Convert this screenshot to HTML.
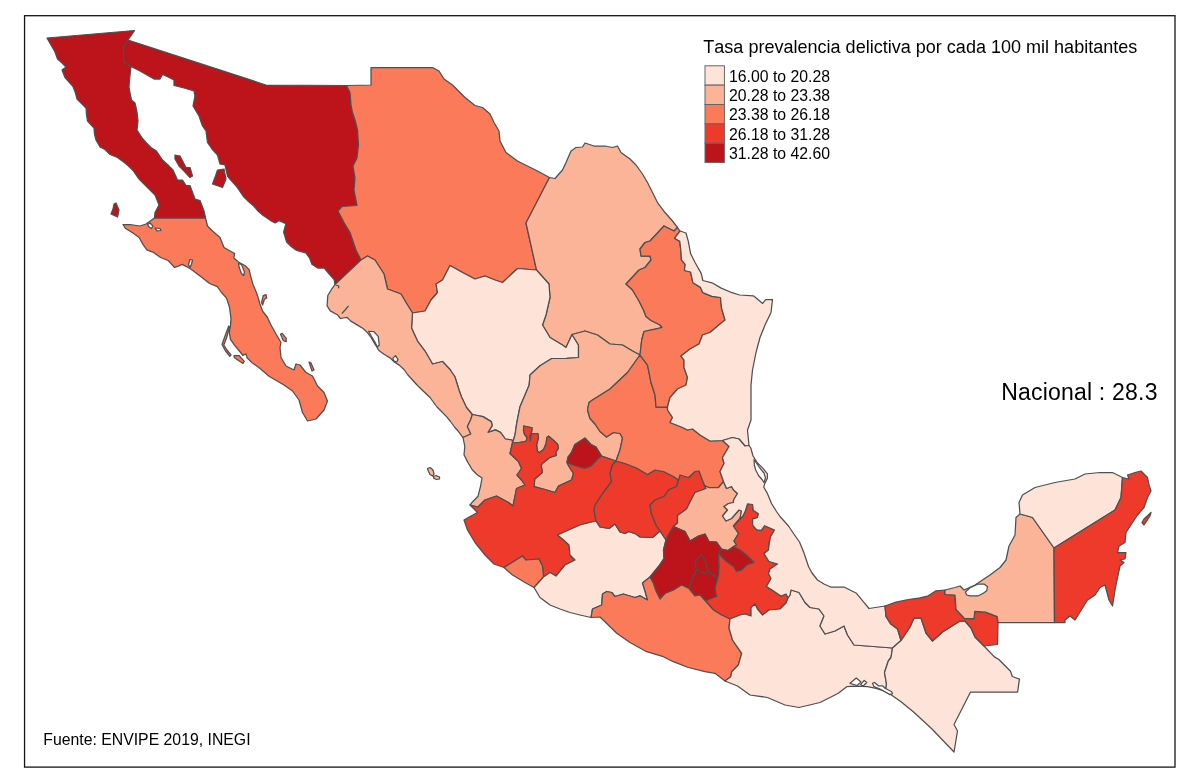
<!DOCTYPE html>
<html lang="es"><head><meta charset="utf-8"><title>Tasa prevalencia delictiva</title>
<style>html,body{margin:0;padding:0;background:#fff}body{width:1200px;height:783px;overflow:hidden}svg{display:block}text{font-family:"Liberation Sans",Arial,sans-serif;fill:#000;font-kerning:none}</style></head><body>
<svg width="1200" height="783" viewBox="0 0 1200 783">
<rect x="0" y="0" width="1200" height="783" fill="#fff"/>
<g stroke="#4f4f4f" stroke-width="1.25" stroke-linejoin="round">
<polygon id="BC" fill="#BC141A" points="47,38 134.5,30.5 131.5,35 128,40 123.5,47.5 123.5,55 124,62 131,66.5 129.5,80 129,87 130,93 131.5,100 135,103 137,112 138,121 137,130 142.5,138.5 146,142.5 151,147.5 156.5,151 162.5,160 168,165 173,170 177.5,180 182.5,180 186,185.5 190,185.5 192,191 195,199 200,200.5 204,211 205.5,218 154.5,218 155,212.5 159,205 155,195 147.5,187.5 140,180 137.5,177 133,170.5 130,167.5 125,163 117.5,157.5 110,154.5 105,149.5 100,147 96,140 94.5,134 94,128 87.5,121 86.5,115 86,108 81,103 77,99 75.5,93 73,86.5 69,82 65,77.5 62,70 66,67 62,63 57.5,59 55,52 51,45 47,38"/>
<polygon id="BCS" fill="#FB7A5A" points="205.5,218 207.5,226 212.5,231 220,237.5 224,247.5 234.6,253.5 233.8,258.1 238.4,262 245.3,265.8 249.1,269.6 250.6,275.8 252.9,284.2 256.8,293.4 260,304 262.5,311 267.5,317.5 271,325 276,334 281,342.5 280,347.5 281,357.5 286,366 294,370 296,364 300,365 306,372.5 312.5,376 317.5,386 324,392.5 327.5,401 324,410 316,419 307.5,421 302.5,412.5 299,400 292.5,391 284,385 269,376.2 259.8,368.2 251.7,362.4 247,357.8 246,353.8 243,355.5 240.2,352 234.5,345.2 230.5,339.4 229.3,332.5 230.5,325.6 231,318.7 229.5,307.3 226.5,298.1 221.1,292 217.3,286.6 209.6,283.5 202,277.4 192.8,270.5 188.2,267.4 182,264.4 179,265.9 174.4,267.4 168.2,260.5 160.6,257.5 152.9,252.1 146.8,249.8 143,244.4 139.1,237.5 133,233 125.3,228.3 123,224.5 130,224.5 140,226 146,224 154.5,218 205.5,218"/>
<polygon id="SON" fill="#BC141A" points="128,40 266,85 346.5,85.5 350,92.5 351,105 352.5,112.5 355,120 357.5,130 358.5,145 357,158 353,166 355,178 354,190 357,205.5 342,206.5 338,211 344,222.5 350,232.5 356,250 361,260 335,284.5 334.1,279.6 328.8,273.5 324.2,268.1 318,268.1 311.9,264.3 309.6,258.1 305.8,252.8 296.6,250.5 291.2,246.6 286.6,242 283.6,232.1 285.9,223.7 279,220.6 275.2,222.9 270.6,220.6 262.9,215.2 258,211 253.7,206 248.5,201.5 243.7,196.9 236.9,186.9 230.7,180 227.5,176 225,165 220,164 217.5,155 212,149 207.5,142.5 206,131 202.5,126 199,116 193,106 195,96 194,91 184,88 174,85.5 174,80 168,77 162.5,74.5 160,79 154,79 147,75 140,71 131,66.5 124,62 123.5,55 123.5,47.5 128,40"/>
<polygon id="CHIH" fill="#FB7A5A" points="346.5,85.5 371,85 371,67.5 432.5,67.5 439,71 444,79 452.5,85 465,97.5 475,105.5 482.5,107.5 490,114 494,122.5 499,131 500,141 506,152.5 517.5,161 527.5,166 537.5,171 549.5,177.5 526,223 536.5,270 517.5,268.5 502.5,282.5 495,280 485,276 475,279 462.5,272.5 450,265.5 442.5,280 436,284 437.5,292.5 431,300 425,311 412.5,313 406,302.5 401,294 387.5,289 384,274 375,260 367.5,256 361,260 356,250 350,232.5 344,222.5 338,211 342,206.5 357,205.5 354,190 355,178 353,166 357,158 358.5,145 357.5,130 355,120 352.5,112.5 351,105 350,92.5 346.5,85.5"/>
<polygon id="COAH" fill="#FCB499" points="549.5,177.5 555,178.5 562.5,170 566,162.5 571,151 576,147.5 582.5,147 585,143 594,146 605,146 612.5,147.5 617.5,146 621,152.5 630,159 636,165 642.5,174 647.5,182.5 652.5,192.5 657.5,202.5 665,212.5 672.5,221 677.5,227.5 674,231 664,226 650,241 645,242.5 640,249 641,256 650,256 651,260 645,267.5 639,270 626,284 632.5,290 639,301 643.5,310 646,316.5 651,320.5 660,325 662,327.5 655,329.2 644,331.5 641.7,340 640,355 632.5,351 622.5,345 610,344 597.5,335 585,331 572,334.5 566,347.5 562.5,345 550,337.5 542.5,325 546,315 550,297.5 549,284 536.5,270 526,223 549.5,177.5"/>
<polygon id="DGO" fill="#FEE4D8" points="536.5,270 549,284 550,297.5 546,315 542.5,325 550,337.5 562.5,345 566,347.5 572,334.5 578.5,345 578.5,357.5 566.7,358.3 551.7,358.5 540,365.8 530,375 529.2,385 525,395 520,406.7 516.7,423.3 515,435 512.5,443 512.1,440 505.4,439 500.5,432.4 495.5,429.9 488,432.4 492.2,425.7 491.3,421.6 483,416.6 472.3,414.5 466.5,407.5 461.5,397 459,390 455,377 450,369.5 442.5,361.5 432.5,364 425,351 417.5,341 411.5,328 412.5,313 425,311 431,300 437.5,292.5 436,284 442.5,280 450,265.5 462.5,272.5 475,279 485,276 495,280 502.5,282.5 517.5,268.5 536.5,270"/>
<polygon id="SIN" fill="#FCB499" points="335,284.5 331.6,289.2 327.8,295.5 327.1,305.8 330.3,310.9 337.3,314.7 340.5,318.5 346.9,317.3 350.8,321.1 357.1,324.9 363.5,328.7 367.4,332.6 371.2,337.7 375,344.1 378.9,350.5 384,354.3 390.4,358.1 394.2,362 399.3,365.1 404.4,370 407.5,374.5 417.5,385.5 430,397.5 437,407 441.5,411.5 446.5,416.6 450.5,421.5 454.5,427 458.5,431.5 463,437.5 470.8,434 467.4,426.6 470.6,420 472.3,414.5 466.5,407.5 461.5,397 459,390 455,377 450,369.5 442.5,361.5 432.5,364 425,351 417.5,341 411.5,328 412.5,313 406,302.5 401,294 387.5,289 384,274 375,260 367.5,256 361,260 335,284.5"/>
<polygon id="NAY" fill="#FCB499" points="463,437.5 464.8,446.5 464,454.8 467.3,461.4 472.2,469.7 477.2,474.7 482,478 480.5,486.3 478,496.3 471.5,503 470,505 478,507 485,500 496.5,496 508.5,502.5 513,506 516.5,488.5 525,485 521.5,480 517,475 521.5,468.5 518.5,461.5 510,453.5 512.5,443 512.1,440 505.4,439 500.5,432.4 495.5,429.9 488,432.4 492.2,425.7 491.3,421.6 483,416.6 472.3,414.5 470.6,420 467.4,426.6 470.8,434 463,437.5"/>
<polygon id="ZAC" fill="#FCB499" points="572,334.5 585,331 597.5,335 610,344 622.5,345 632.5,351 640,355 627.5,372.5 610,389 592.5,400 589,402.5 587.5,410 590,418.5 595,424 600,431.5 606.5,437 613.5,432.5 620,433.5 622.5,438 620,450 616,461 601.5,456 596,447 590.9,444.5 585.1,438.1 574.9,444.5 571.7,452.1 567.9,457.3 567,462.5 569,466.5 573.5,473.5 571.5,480 558.5,486 555,492.5 545,489.5 534.1,486.6 534.7,479 542.4,472.6 541.1,464.9 543.6,462.4 550,457.3 556.4,455.3 555.8,452.1 558.3,448.3 557.7,444.5 553.9,440.7 548.7,436.2 546.8,437.5 546.2,443.2 543.6,449.6 539.2,452.8 537.3,450.9 536.6,444.5 538.5,437.5 537.9,433.6 531.5,433.6 530.3,441 529.8,436 531.5,432.3 532.1,427.9 523.8,426 523.5,430.4 524.5,434.3 527.3,438 525.8,441.3 519,442.5 512.5,443 515,435 516.7,423.3 520,406.7 525,395 529.2,385 530,375 540,365.8 551.7,358.5 566.7,358.3 578.5,357.5 578.5,345 572,334.5"/>
<polygon id="AGS" fill="#BC141A" points="567,462.5 567.9,457.3 571.7,452.1 574.9,444.5 585.1,438.1 590.9,444.5 596,447 601.5,456 598.6,458 590.9,466.2 584.5,468.3 573,465 567,462.5"/>
<polygon id="JAL" fill="#EE3A2B" points="512.5,443 519,442.5 525.8,441.3 527.3,438 524.5,434.3 523.5,430.4 523.8,426 532.1,427.9 531.5,432.3 529.8,436 530.3,441 531.5,433.6 537.9,433.6 538.5,437.5 536.6,444.5 537.3,450.9 539.2,452.8 543.6,449.6 546.2,443.2 546.8,437.5 548.7,436.2 553.9,440.7 557.7,444.5 558.3,448.3 555.8,452.1 556.4,455.3 550,457.3 543.6,462.4 541.1,464.9 542.4,472.6 534.7,479 534.1,486.6 545,489.5 555,492.5 558.5,486 571.5,480 573.5,473.5 569,466.5 567,462.5 573,465 584.5,468.3 590.9,466.2 598.6,458 601.5,456 616,461 612.5,465 610,473.5 611.5,481.5 604,491.5 600,497.5 595,505 594,510 596,521 580,525 557.5,535 562.5,539 569,545 570,555 575,560 565,565 556,576 550,572.5 543.5,577 542.5,566 539,559 526,560 522.5,556 504,567.5 494,564 485,555 475,542.5 467.5,530 464,520 471,516 477.5,512.5 470,505 478,507 485,500 496.5,496 508.5,502.5 513,506 516.5,488.5 525,485 521.5,480 517,475 521.5,468.5 518.5,461.5 510,453.5 512.5,443"/>
<polygon id="COL" fill="#FB7A5A" points="504,567.5 522.5,556 526,560 539,559 542.5,566 543.5,577 534,587.5 525,582.5 512.5,575 504,567.5"/>
<polygon id="MICH" fill="#FEE4D8" points="534,587.5 540,597.5 550,605 560,609 570,612.5 580,615 591,617.5 592.5,609 601.7,605 602.5,594 606.7,591.5 611.7,592.5 615,596.5 623.3,594 635,597.5 640,595.8 647.5,600 645,591 642.5,583 650,577 659,566 664,558.5 663.5,550 666,540 660,531 652.5,537.5 640,537 636,534 628.5,531.5 625,533.5 620,532 615,524 609,528.5 600,527 596,521 580,525 557.5,535 562.5,539 569,545 570,555 575,560 565,565 556,576 550,572.5 543.5,577 534,587.5"/>
<polygon id="GTO" fill="#EE3A2B" points="616,461 625,463.5 636.5,468 647.5,474.5 655,470 663.5,471.5 673.5,476.5 678.5,480 676.5,486.5 668.5,490 664,496.5 655,500 650,505 651.5,514 656,525 660,531 652.5,537.5 640,537 636,534 628.5,531.5 625,533.5 620,532 615,524 609,528.5 600,527 596,521 594,510 595,505 600,497.5 604,491.5 611.5,481.5 610,473.5 612.5,465 616,461"/>
<polygon id="QRO" fill="#EE3A2B" points="678.5,480 680,475 688.5,477.5 695,471.5 699,471 702,479 704.5,485.5 706,488.5 695,492.5 691,500 686.5,509 677.5,515.5 677.5,523 673.5,526.5 669,534 666,540 660,531 656,525 651.5,514 650,505 655,500 664,496.5 668.5,490 676.5,486.5 678.5,480"/>
<polygon id="SLP" fill="#FB7A5A" points="640,355 627.5,372.5 610,389 592.5,400 589,402.5 587.5,410 590,418.5 595,424 600,431.5 606.5,437 613.5,432.5 620,433.5 622.5,438 620,450 616,461 625,463.5 636.5,468 647.5,474.5 655,470 663.5,471.5 673.5,476.5 678.5,480 680,475 688.5,477.5 695,471.5 699,471 702,479 704.5,485.5 708.5,487.5 718.5,487.5 723.5,481.5 720,471.5 724,463.5 722.5,457.5 729,446.5 722.5,440.5 710,441 700,435 692.5,429 687.5,430 682.5,427.5 670,422.5 672.5,417.5 667.5,410 667.5,407 656,407 655,395 651,382.5 647.5,365 640,355"/>
<polygon id="NL" fill="#FB7A5A" points="677.5,227.5 680,231 674.5,238.3 679.8,241.4 681,252 681.4,259.8 685.2,264.4 684.4,270.5 690.6,272 692.9,282.8 700.5,287.4 702.8,292.7 712,296.3 720.5,297.5 721.5,308 725,320 720,324 710,332.5 702.5,335 699,344 690,349 681,356 684,360 684,367.5 687.5,377.5 686,385 677.5,389 670,397.5 667.5,407 656,407 655,395 651,382.5 647.5,365 640,355 641.7,340 644,331.5 655,329.2 662,327.5 660,325 651,320.5 646,316.5 643.5,310 639,301 632.5,290 626,284 639,270 645,267.5 651,260 650,256 641,256 640,249 645,242.5 650,241 664,226 674,231 677.5,227.5"/>
<polygon id="TAM" fill="#FEE4D8" points="680,231 686,233 688.3,241.4 690.6,253.6 695.2,262.8 701.3,273.6 702.8,280.5 712,282.8 721.2,288.1 732,292.7 739.6,295 753.4,295.8 762.6,303.4 765.7,299.6 772.5,299.5 771,312.5 765,325 760,337.5 756,352.5 752.5,370 751,385 751,402.5 751,420 747.5,430 749,445.5 745,446 739,439 732.5,437.5 722.5,440.5 710,441 700,435 692.5,429 687.5,430 682.5,427.5 670,422.5 672.5,417.5 667.5,410 667.5,407 670,397.5 677.5,389 686,385 687.5,377.5 684,367.5 684,360 681,356 690,349 699,344 702.5,335 710,332.5 720,324 725,320 721.5,308 720.5,297.5 712,296.3 702.8,292.7 700.5,287.4 692.9,282.8 690.6,272 684.4,270.5 685.2,264.4 681.4,259.8 681,252 679.8,241.4 674.5,238.3 680,231"/>
<polygon id="HGO" fill="#FCB499" points="704.5,485.5 708.5,487.5 718.5,487.5 723.5,481.5 726.5,488.5 731.5,486.5 733.5,490 737.5,493.5 733.5,500 733.5,502.5 728.5,503.5 724,506.5 727.5,510 722.5,516 726,521 731.5,518.5 739,510 741.5,511 740,518.5 733.5,526 738.5,533.5 734,541 736.5,545 733.7,546.5 728,550.5 721.5,549 716.5,542 709,541.5 705,534 698.5,536 690,541 685,531.5 673.5,526.5 677.5,523 677.5,515.5 686.5,509 691,500 695,492.5 706,488.5 704.5,485.5"/>
<polygon id="MEX" fill="#BC141A" points="673.5,526.5 685,531.5 690,541 698.5,536 705,534 709,541.5 716.5,542 721.5,549 718.5,553.5 719,566.5 718.5,575 717.5,578.5 708.5,571.5 705,573.5 696.5,570 691.5,580 689,588.5 681.5,585 673.5,590 665,593.5 660,599 656,591 653.5,583.5 650,577 659,566 664,558.5 663.5,550 666,540 669,534 673.5,526.5"/>
<polygon id="CDMX" fill="#BC141A" points="696.5,570 695,561.5 701.5,555 705,560 708.5,571.5 705,573.5 696.5,570"/>
<polygon id="MOR" fill="#BC141A" points="708.5,571.5 717.5,578.5 715,588.5 716.5,596.5 711,598.5 705.5,601 700,595 695,596 689,588.5 691.5,580 696.5,570 705,573.5 708.5,571.5"/>
<polygon id="TLAX" fill="#BC141A" points="721.5,549 728,550.5 733.7,546.5 740,550 746.5,555 754,562.5 746.5,565 741.5,570 736.5,571.5 733.5,566.5 726.5,561.5 721.5,556.5 718.5,553.5 721.5,549"/>
<polygon id="PUE" fill="#EE3A2B" points="788,598 786,594 781,596 773.5,591 766.5,586.5 771,578.5 768.5,573.5 770,569 777.5,564 769,561.5 764,553.5 768.5,550 769.3,543 770.5,536.7 774.5,530 764.7,525.7 761.3,530.3 756.7,529.8 752.6,525.2 752.6,518.9 757.2,517.7 758.4,513.7 753.2,510.2 752.6,504.5 747.5,503.9 745.2,511.4 742.9,516 733.5,526 738.5,533.5 734,541 736.5,545 733.7,546.5 740,550 746.5,555 754,562.5 746.5,565 741.5,570 736.5,571.5 733.5,566.5 726.5,561.5 721.5,556.5 718.5,553.5 719,566.5 718.5,575 717.5,578.5 715,588.5 716.5,596.5 711,598.5 705.5,601 713.5,610 721.5,615 730,619 740,615 745,614 751,616 751,607.5 755,604 757.5,609 762.5,615 769,610 780,609 786,603 788,598"/>
<polygon id="GRO" fill="#FB7A5A" points="591,617.5 600,617 608.3,625 616.7,633.3 630,642.5 646.7,651.7 663.3,656.7 673.3,661.7 688.3,667.5 705,671.7 715,673.3 725,681 730.8,676.7 731.7,671.7 738.3,665 741.7,653.3 732.5,640 729,628 730,619 721.5,615 713.5,610 705.5,601 700,595 695,596 689,588.5 681.5,585 673.5,590 665,593.5 660,599 656,591 653.5,583.5 650,577 642.5,583 645,591 647.5,600 640,595.8 635,597.5 623.3,594 615,596.5 611.7,592.5 606.7,591.5 602.5,594 601.7,605 592.5,609 591,617.5"/>
<polygon id="OAX" fill="#FEE4D8" points="725,681 737.5,686 750,695 767.5,697.5 785,705 799,707.5 820,702.5 830,697.5 838.3,693.3 846.7,686.7 855,686.2 867.5,686.7 876,688.3 885.5,691.5 886.5,684 884.5,672.5 888.3,661 891,657.5 892.5,648 854,645 847.5,635 844,626 835,631 825,634 820,626 824,616 819,609 810,607.5 805,602.5 799,592.5 791,590 790,595 788,598 786,603 780,609 769,610 762.5,615 757.5,609 755,604 751,607.5 751,616 745,614 740,615 730,619 729,628 732.5,640 741.7,653.3 738.3,665 731.7,671.7 730.8,676.7 725,681"/>
<polygon id="VER" fill="#FEE4D8" points="749,445.5 750.8,448 753,456 757.5,463 763,468.4 767.4,473.8 767.4,478.3 764.7,483.6 763.8,487.2 767.4,493.4 771.5,503.5 776.5,511.5 780,516.5 788.5,526 793.5,533.5 799.5,542 804,553 808.5,566.5 812,573 817.5,580 824,584 830.6,587 844,587 856.5,593.3 863.7,602.2 869,608.5 885,606 886,616.5 890.5,623.7 897.6,629 901,640.5 892.5,648 854,645 847.5,635 844,626 835,631 825,634 820,626 824,616 819,609 810,607.5 805,602.5 799,592.5 791,590 790,595 788,598 786,594 781,596 773.5,591 766.5,586.5 771,578.5 768.5,573.5 770,569 777.5,564 769,561.5 764,553.5 768.5,550 769.3,543 770.5,536.7 774.5,530 764.7,525.7 761.3,530.3 756.7,529.8 752.6,525.2 752.6,518.9 757.2,517.7 758.4,513.7 753.2,510.2 752.6,504.5 747.5,503.9 745.2,511.4 742.9,516 733.5,526 740,518.5 741.5,511 739,510 731.5,518.5 726,521 722.5,516 727.5,510 724,506.5 728.5,503.5 733.5,502.5 733.5,500 737.5,493.5 733.5,490 731.5,486.5 726.5,488.5 723.5,481.5 720,471.5 724,463.5 722.5,457.5 729,446.5 722.5,440.5 732.5,437.5 739,439 745,446 749,445.5"/>
<polygon id="CHIS" fill="#FEE4D8" points="885.5,691.5 892.5,695.8 901,701.7 913.3,711.7 925.8,723.3 932.5,729.5 942.5,740 954,752 957.5,731 954,724.5 970.5,692 1017.6,692 1019.4,679.2 1012.3,676.5 1010.5,671.2 1003.3,664 998.9,659.5 994.4,656.9 984,646 975,637 971,628 965,621 960,621 942.5,632 932.5,641 926,633 921,618 914,618 910,627 901,640.5 892.5,648 891,657.5 888.3,661 884.5,672.5 886.5,684 885.5,691.5"/>
<polygon id="TAB" fill="#EE3A2B" points="885,606 895.9,602.2 908.4,599.5 920,597.8 928.3,595.8 936,590.8 945,590 945,594.5 955,595 956,609.5 964.5,618.5 974,618.5 974.8,611.3 985.5,612.2 997.2,616.6 998,622.5 997.5,644.5 984,646 975,637 971,628 965,621 960,621 942.5,632 932.5,641 926,633 921,618 914,618 910,627 901,640.5 897.6,629 890.5,623.7 886,616.5 885,606"/>
<polygon id="CAMP" fill="#FCB499" points="945,590 955,587.5 960,586 964,590 975,585 982.5,580 990,575 1000,567.5 1006,560 1009,546 1015,535 1016,517.5 1020,514 1027.5,516 1032.5,517.5 1054,548 1054.5,622.5 998,622.5 997.2,616.6 985.5,612.2 974.8,611.3 974,618.5 964.5,618.5 956,609.5 955,595 945,594.5 945,590"/>
<polygon id="YUC" fill="#FEE4D8" points="1020,514 1019,502.5 1022.5,495 1035,487.5 1055,482.5 1075,479 1085,474 1100,472.5 1112.5,472.5 1122.5,477.5 1121,497.5 1115,510 1054,548 1032.5,517.5 1027.5,516 1020,514"/>
<polygon id="QROO" fill="#EE3A2B" points="1122.5,477.5 1129,479 1127.5,475 1135,472.5 1141,471 1147.5,477.5 1149,485 1151,491 1147.5,497.5 1144,507.5 1137.5,515 1132.5,522.5 1126,532.5 1125,542.5 1119,546 1117.5,552.5 1126,552.5 1125,559 1120,560 1124,562.5 1120,566 1117.5,577.5 1115,590 1112.5,606 1109,600 1105,585 1100,587.5 1095,595 1087.5,600 1075,620 1070,616 1065,620 1065,622.5 1054.5,622.5 1054,548 1115,510 1121,497.5 1122.5,477.5"/>
<polygon fill="#BC141A" points="175,155 180,156 186,167.5 190,167.5 192.5,176 190,177.5 184,171 179,166 175,159"/>
<polygon fill="#BC141A" points="217.5,170 224,169 226,179 222.5,187.5 212.5,184 215.5,176"/>
<polygon fill="#BC141A" points="114,204 116,203 119,210 117.5,217 111,214 113,209"/>
<polygon fill="#FB7A5A" points="262.6,305 261.5,302.6 263.2,295.7 266,294.6 266.7,298 264.4,299.2"/>
<polygon fill="#FB7A5A" points="280.5,334.3 282.2,333.4 286.2,338.3 286.2,341.7 283.3,340.6"/>
<polygon fill="#FB7A5A" points="309,362 311,363 314,370 312,371"/>
<polygon fill="#FB7A5A" points="234,355.5 239,355.5 244.3,361.3 243,363.5 234.5,357.8"/>
<polygon fill="#FB7A5A" points="228.7,326 229.6,327 226.5,338 223.8,345 227,350 231,355 229.8,356.3 225.5,351 222,344.5 225,336"/>
<polygon fill="#EE3A2B" points="1144,519 1151,512.5 1150,516 1144,525 1142,522.5"/>
<polygon fill="#FCB499" points="427.5,468.5 430,467.5 433,470 434,474 432.5,476 430,474.5 428.5,471.5"/>
<polygon fill="#FCB499" points="433.5,476.5 436,475.5 439.5,477 439.5,479 436.5,479.5 434,478.5"/>
<polygon fill="#fff" points="965.4,592 970,587.7 978.3,584 984,584 987.5,586.7 986.7,590.8 983.3,593.3 978.3,595.8 970,595.8 966.7,595"/>
<polygon fill="#fff" points="754,459.5 756,462.5 759.5,467.5 764,473 765.5,478 764,482.5 762,479.5 758.5,475.5 755.7,470 754.4,465.5"/>
<polygon fill="#fff" points="368.6,331.3 373.7,331.5 378.2,336.4 379.3,345 377.4,347 374.6,341.5 371.4,336.2"/>
<polygon fill="#fff" points="392.9,358.1 395.5,355.6 398,359.4 396.7,362 393.5,360.7"/>
<polygon fill="#fff" points="238.4,263.5 241.4,264.3 244.5,271.9 243.7,275.5 241.4,273.5 239.2,267.3"/>
<polygon fill="#fff" points="147.5,224.5 150,223 153,226 151.5,228.5 149,227"/>
<polygon fill="#fff" points="155,228 160,228.5 161,230.5 157,230.8"/>
<polygon fill="#fff" points="188.5,264.5 190,259.5 192.5,260 191.5,264 190,267.5"/>
<polygon fill="#fff" points="850,683.3 856.25,678 861,682 857,685.5"/>
<polygon fill="#fff" points="860.6,684.6 864.2,680.4 866.7,682.5 862.9,686.2"/>
<polygon fill="#fff" points="872.5,683.3 874.6,682.5 878.3,685.8 882.5,685.8 885,688.3 891.7,691.7 892.5,693.7 890,694.6 880,689 874,686.7"/>
<polyline fill="none" points="341.8,313.6 345.5,309.5 348.6,305.8"/>
<polyline fill="none" points="335.6,285 338.8,286 338.5,288.3"/>
</g>
<text x="703.3" y="52.7" font-size="18.05">Tasa prevalencia delictiva por cada 100 mil habitantes</text>
<g stroke="#666" stroke-width="1">
<rect x="705" y="65.8" width="19.4" height="19.35" fill="#FEE4D8"/>
<rect x="705" y="85.15" width="19.4" height="19.35" fill="#FCB499"/>
<rect x="705" y="104.5" width="19.4" height="19.35" fill="#FB7A5A"/>
<rect x="705" y="123.85" width="19.4" height="19.35" fill="#EE3A2B"/>
<rect x="705" y="143.2" width="19.4" height="19.35" fill="#BC141A"/>
</g>
<text x="729" y="81.5" font-size="15.8">16.00 to 20.28</text>
<text x="729" y="100.85" font-size="15.8">20.28 to 23.38</text>
<text x="729" y="120.2" font-size="15.8">23.38 to 26.18</text>
<text x="729" y="139.55" font-size="15.8">26.18 to 31.28</text>
<text x="729" y="158.9" font-size="15.8">31.28 to 42.60</text>
<text x="1001.2" y="399.6" font-size="23" letter-spacing="0.2">Nacional : 28.3</text>
<text x="43.3" y="744.5" font-size="15.8">Fuente: ENVIPE 2019, INEGI</text>
<rect x="24.55" y="15.7" width="1150.45" height="751.4" fill="none" stroke="#161616" stroke-width="1.3"/>
</svg></body></html>
